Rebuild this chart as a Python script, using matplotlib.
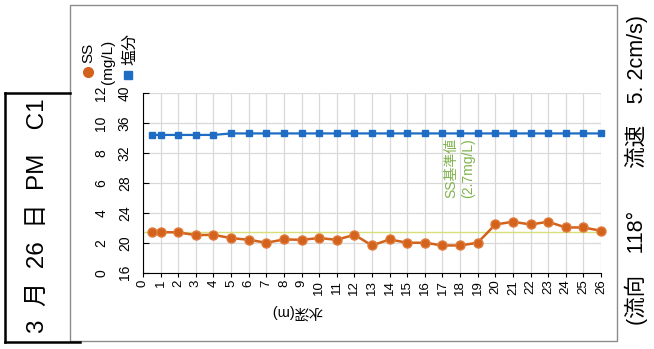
import matplotlib
matplotlib.use("Agg")
import matplotlib.pyplot as plt
from matplotlib.lines import Line2D
from matplotlib.patches import Rectangle

plt.rcParams['font.family'] = ['Liberation Sans', 'Noto Sans CJK JP', 'DejaVu Sans']

# ---- data ----
depth = [0.5, 1, 2, 3, 4, 5, 6, 7, 8, 9, 10, 11, 12, 13, 14, 15, 16, 17, 18, 19, 20, 21, 22, 23, 24, 25, 26]
ss = [2.71, 2.71, 2.69, 2.51, 2.53, 2.31, 2.2, 2.0, 2.22, 2.2, 2.31, 2.2, 2.53, 1.82,
      2.22, 2.0, 2.0, 1.82, 1.82, 2.0, 3.22, 3.4, 3.22, 3.4, 3.02, 3.02, 2.8]
salt = [34.4, 34.4, 34.4, 34.4, 34.4, 34.6, 34.6, 34.6, 34.6, 34.6, 34.6, 34.6, 34.6, 34.6,
        34.6, 34.6, 34.6, 34.6, 34.6, 34.6, 34.6, 34.6, 34.6, 34.6, 34.6, 34.6, 34.6]
x_ticks = list(range(0, 27))
ss_ticks = [0, 2, 4, 6, 8, 10, 12]
salt_ticks = [16, 20, 24, 28, 32, 36, 40]
ss_standard = 2.7

W, H = 654, 349
fig = plt.figure(figsize=(W / 100, H / 100), dpi=100)

def fx(px):
    return px / W

def fy(py):
    return 1 - py / H

ss_col = '#D2621C'
salt_col = '#1F6CC4'

ax = fig.add_axes([fx(143), fy(272.7), fx(601) - fx(143), fy(93) - fy(272.7)])
ax.set_xlim(0, 26)
ax.set_ylim(0, 12)
ax.set_xticks(x_ticks)
ax.set_xticklabels([str(v) for v in x_ticks], rotation=90, fontsize=9.5)
ax.set_yticks(ss_ticks)
ax.set_yticklabels([str(v) for v in ss_ticks], rotation=90, fontsize=10, va='center')
ax.grid(True, color='#d9d9d9', linewidth=0.9)
ax.set_axisbelow(True)
for s in ['top', 'right']:
    ax.spines[s].set_visible(False)
ax.spines['left'].set_color('black')
ax.spines['bottom'].set_color('black')
ax.tick_params(axis='x', direction='out', length=3, pad=2, color='black')
ax.tick_params(axis='y', direction='in', length=4, pad=25, color='black')

ax.axhline(ss_standard, color='#d6df7a', linewidth=1.0, zorder=2)
ax.plot(depth, ss, color=ss_col, linewidth=1.8, marker='o', markersize=6.5,
        markerfacecolor=ss_col, markeredgecolor='#e07a3a', zorder=4, clip_on=False)

ax.text(18.0, 7.0, 'SS基準値\n(2.7mg/L)', rotation=90, color='#80b34c', fontsize=10,
        ha='center', va='center', linespacing=1.25)

ax2 = ax.twinx()
ax2.set_ylim(16, 40)
ax2.set_yticks(salt_ticks)
ax2.yaxis.tick_left()
ax2.set_yticklabels([str(v) for v in salt_ticks], rotation=90, fontsize=10, va='center')
ax2.tick_params(axis='y', length=0, pad=8)
for s in ax2.spines.values():
    s.set_visible(False)
ax2.plot(depth, salt, color=salt_col, linewidth=1.6, marker='s', markersize=5,
         markerfacecolor=salt_col, markeredgecolor=salt_col, zorder=4, clip_on=False)

# legend-like labels above axis
fig.add_artist(Line2D([fx(88)], [fy(72)], marker='o', markersize=7, color=ss_col, linestyle='none'))
fig.text(fx(88), fy(53), 'SS', rotation=90, fontsize=11, ha='center', va='center')
fig.text(fx(108), fy(62), '(mg/L)', rotation=90, fontsize=11, ha='center', va='center')
fig.add_artist(Line2D([fx(128)], [fy(75)], marker='s', markersize=6, color=salt_col, linestyle='none'))
fig.text(fx(130), fy(49), '塩分', rotation=90, fontsize=11.5, ha='center', va='center')

# x axis label (upside down)
fig.text(fx(297), fy(312), '水深(m)', rotation=180, fontsize=10.5, ha='center', va='center')

# outer frame
fig.add_artist(Rectangle((fx(70), fy(341)), fx(617) - fx(70), fy(5) - fy(341),
                         transform=fig.transFigure, fill=False, edgecolor='#8c8c8c', linewidth=1.0))
# left box
fig.add_artist(Line2D([fx(5), fx(70)], [fy(93), fy(93)], color='black', linewidth=1.8))
fig.add_artist(Line2D([fx(5), fx(5)], [fy(93), fy(342)], color='black', linewidth=1.8))
fig.add_artist(Line2D([fx(5), fx(80)], [fy(342), fy(342)], color='black', linewidth=1.8))
fig.text(fx(38), fy(216), '3  月  26  日  PM　C1', rotation=90, fontsize=17.5, ha='center', va='center')

# right text
fig.text(fx(636), fy(170), '(流向　118°　　流速　5. 2cm/s)', rotation=90, fontsize=15.5,
         ha='center', va='center')

fig.savefig('out.png', dpi=100)
